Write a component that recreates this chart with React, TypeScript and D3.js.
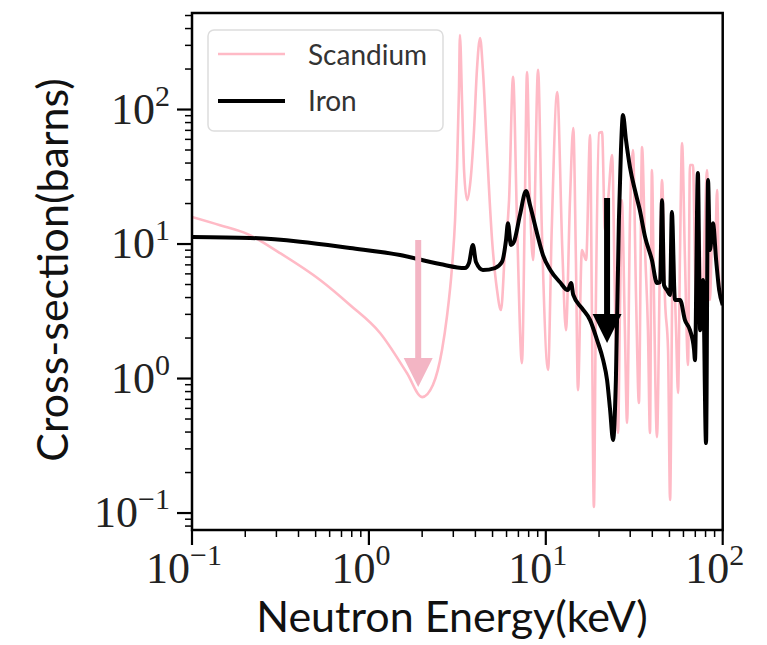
import React from "react";
import * as d3 from "d3";

// Scandium cross-section (keV, barns)
const scEnergy = [0.1, 0.144, 0.205, 0.314, 0.53, 0.782, 1.156, 1.64, 2.0, 2.3, 2.59, 2.76, 2.95, 3.07, 3.15, 3.23, 3.27, 3.36, 3.45, 3.59, 3.73, 3.93, 4.08, 4.25, 4.41, 4.65, 4.97, 5.3, 5.58, 5.88, 6.2, 6.53, 6.87, 7.33, 7.62, 7.83, 8.14, 8.47, 9.04, 9.5, 10.3, 10.8, 11.6, 12.4, 13.0, 13.7, 14.3, 14.8, 15.2, 16.0, 16.9, 17.8, 18.2, 18.7, 19.2, 20.0, 20.8, 21.6, 22.5, 23.7, 24.6, 25.6, 26.3, 26.9, 28.0, 28.8, 29.9, 31.1, 32.4, 33.6, 35.0, 36.4, 37.8, 38.8, 39.8, 40.9, 42.5, 44.3, 45.4, 47.2, 49.1, 50.4, 52.3, 54.5, 55.9, 57.4, 58.9, 61.2, 63.7, 65.3, 67.9, 70.6, 73.5, 76.4, 79.4, 81.5, 84.7, 87.1, 90.6, 92.9, 95.5, 100];
const scSigma = [15.9, 13.8, 11.9, 8.57, 5.4, 3.52, 2.18, 1.1, 0.728, 0.895, 1.63, 2.87, 6.75, 15.1, 37.3, 140, 358, 118, 35.5, 21.2, 27.5, 70.5, 197, 340, 197, 50.0, 10.7, 4.55, 3.23, 9.02, 21.2, 175, 15.1, 1.3, 21.2, 190, 21.2, 7.6, 197, 12.7, 1.16, 12.7, 135, 9.02, 2.29, 21.2, 72.8, 7.6, 0.82, 9.02, 7.6, 64.6, 3.84, 0.111, 3.84, 66.8, 68.1, 12.7, 21.2, 45.9, 3.84, 0.394, 3.84, 21.2, 2.29, 0.467, 15.1, 50.0, 3.84, 0.657, 52.6, 9.02, 2.29, 0.394, 35.5, 3.84, 0.367, 9.02, 29.9, 3.84, 1.63, 0.125, 9.02, 2.29, 0.78, 9.02, 56.3, 7.6, 1.26, 38.7, 38.7, 3.84, 12.7, 2.72, 15.1, 35.5, 3.84, 10.7, 9.02, 25.2, 5.4, 3.84];

// Iron cross-section (keV, barns)
const feEnergy = [0.1, 0.213, 0.408, 0.782, 1.5, 2.52, 3.49, 3.68, 3.87, 4.03, 4.41, 5.16, 5.65, 5.96, 6.11, 6.35, 6.61, 7.14, 7.73, 8.14, 8.91, 9.64, 10.6, 12.0, 13.3, 13.9, 14.3, 16.0, 17.8, 19.5, 21.1, 22.2, 23.1, 24.0, 24.9, 25.9, 26.6, 27.3, 28.4, 29.9, 31.9, 34.0, 36.4, 39.8, 42.5, 44.3, 45.4, 46.6, 48.4, 50.4, 51.6, 53.7, 57.4, 61.2, 65.3, 68.9, 69.7, 72.4, 74.5, 77.4, 80.5, 82.6, 84.7, 88.1, 91.8, 95.5, 100];
const feSigma = [11.3, 11.1, 10.4, 9.34, 8.28, 7.1, 6.63, 7.23, 9.84, 7.35, 6.41, 6.63, 7.35, 10.7, 14.3, 9.84, 10.4, 16.4, 24.8, 19.5, 12.1, 8.28, 6.41, 5.22, 4.55, 5.13, 4.18, 3.34, 2.72, 1.93, 1.37, 0.975, 0.583, 0.349, 0.975, 15.1, 50.0, 91, 59.3, 37.3, 25.2, 17.9, 11.3, 7.6, 5.13, 5.22, 21.2, 4.95, 4.55, 4.18, 17.3, 3.84, 3.84, 2.72, 2.29, 1.63, 1.37, 33.8, 2.29, 5.4, 0.331, 29.9, 9.02, 14.3, 7.6, 4.55, 3.52];

const seriesNames = ["Scandium", "Iron"];
const seriesColors = ["#ffbac6", "#000000"];

const xTicks = [0.1, 1, 10, 100];
const xTickExp = ["\u22121", "0", "1", "2"];
const yTicks = [0.1, 1, 10, 100];
const yTickExp = ["\u22121", "0", "1", "2"];

// Annotation arrows: [energy, from sigma, to sigma]
const scArrow = [1.9, 10.7, 0.865];
const feArrow = [22.2, 22.0, 1.84];

export default function App() {
  const W = 767, H = 645;
  const L = 192, R = 722.7, T = 13, B = 530;
  const x = d3.scaleLog().domain([0.1, 100]).range([L, R]);
  const y = d3.scaleLog().domain([0.0748, 522]).range([B, T]);

  const line = d3
    .line<[number, number]>()
    .x((d) => x(d[0]))
    .y((d) => y(d[1]))
    .curve(d3.curveMonotoneX);

  const scPts = scEnergy.map((e, i) => [e, scSigma[i]] as [number, number]);
  const fePts = feEnergy.map((e, i) => [e, feSigma[i]] as [number, number]);

  const minorX: number[] = [];
  for (const d of [0.1, 1, 10]) for (let k = 2; k <= 9; k++) minorX.push(d * k);
  const minorY: number[] = [];
  for (const d of [0.01, 0.1, 1, 10, 100])
    for (let k = 2; k <= 9; k++) {
      const v = d * k;
      if (v >= 0.0748 && v <= 522) minorY.push(v);
    }

  const arrow = (a: number[], color: string) => {
    const ax = x(a[0]);
    const y0 = y(a[1]);
    const tip = y(a[2]);
    const headLen = 29;
    const headHalf = 14.5;
    return (
      <g>
        <line x1={ax} x2={ax} y1={y0} y2={tip - headLen + 2} stroke={color} strokeWidth={6} />
        <path
          d={`M${ax - headHalf},${tip - headLen} L${ax + headHalf},${tip - headLen} L${ax},${tip} Z`}
          fill={color}
        />
      </g>
    );
  };

  const tickFont = "'Liberation Serif', 'DejaVu Serif', serif";
  const sansFont = "Lato, 'Open Sans', sans-serif";

  return (
    <svg
      width={W}
      height={H}
      style={{ position: "absolute", left: 0, top: 0, background: "#fff" }}
    >
      <defs>
        <clipPath id="plotclip">
          <rect x={L} y={T} width={R - L} height={B - T} />
        </clipPath>
      </defs>
      <g clipPath="url(#plotclip)">
        <path d={line(scPts) || ""} fill="none" stroke={seriesColors[0]} strokeWidth={2.6} strokeLinejoin="round" />
        <path d={line(fePts) || ""} fill="none" stroke={seriesColors[1]} strokeWidth={4} strokeLinejoin="round" />
        {arrow(scArrow, "#f3b5c4")}
        {arrow(feArrow, "#000")}
      </g>

      {/* frame */}
      <rect x={L} y={T} width={R - L} height={B - T} fill="none" stroke="#000" strokeWidth={2.5} />

      {/* x ticks */}
      {xTicks.map((t, i) => (
        <g key={"xt" + i}>
          <line x1={x(t)} x2={x(t)} y1={B} y2={B + 15} stroke="#000" strokeWidth={2.2} />
          <text x={x(t) - 8} y={583} fontFamily={tickFont} fontSize={44} fill="#222" textAnchor="middle">
            10
            <tspan dy={-18} fontSize={30}>{xTickExp[i]}</tspan>
          </text>
        </g>
      ))}
      {minorX.map((t, i) => (
        <line key={"xm" + i} x1={x(t)} x2={x(t)} y1={B} y2={B + 7} stroke="#000" strokeWidth={1.5} />
      ))}

      {/* y ticks */}
      {yTicks.map((t, i) => (
        <g key={"yt" + i}>
          <line x1={L - 15} x2={L} y1={y(t)} y2={y(t)} stroke="#000" strokeWidth={2.2} />
          <text x={170} y={y(t) + 14} fontFamily={tickFont} fontSize={44} fill="#222" textAnchor="end">
            10
            <tspan dy={-18} fontSize={30}>{yTickExp[i]}</tspan>
          </text>
        </g>
      ))}
      {minorY.map((t, i) => (
        <line key={"ym" + i} x1={L - 7} x2={L} y1={y(t)} y2={y(t)} stroke="#000" strokeWidth={1.5} />
      ))}

      {/* axis labels */}
      <text x={452} y={632} fontFamily={sansFont} fontSize={43} fill="#111" textAnchor="middle">
        Neutron Energy(keV)
      </text>
      <text
        transform={`translate(68, 270) rotate(-90)`}
        fontFamily={sansFont}
        fontSize={43}
        fill="#111"
        textAnchor="middle"
      >
        Cross-section(barns)
      </text>

      {/* legend */}
      <rect x={208} y={30} width={235} height={101} rx={6} fill="#fff" fillOpacity={0.8} stroke="#ddd" strokeWidth={1.5} />
      <line x1={218} x2={285} y1={54} y2={54} stroke={seriesColors[0]} strokeWidth={2.6} />
      <text x={308} y={65} fontFamily={sansFont} fontSize={28} fill="#333">{seriesNames[0]}</text>
      <line x1={218} x2={285} y1={101} y2={101} stroke={seriesColors[1]} strokeWidth={4} />
      <text x={308} y={111} fontFamily={sansFont} fontSize={28} fill="#333">{seriesNames[1]}</text>
    </svg>
  );
}
